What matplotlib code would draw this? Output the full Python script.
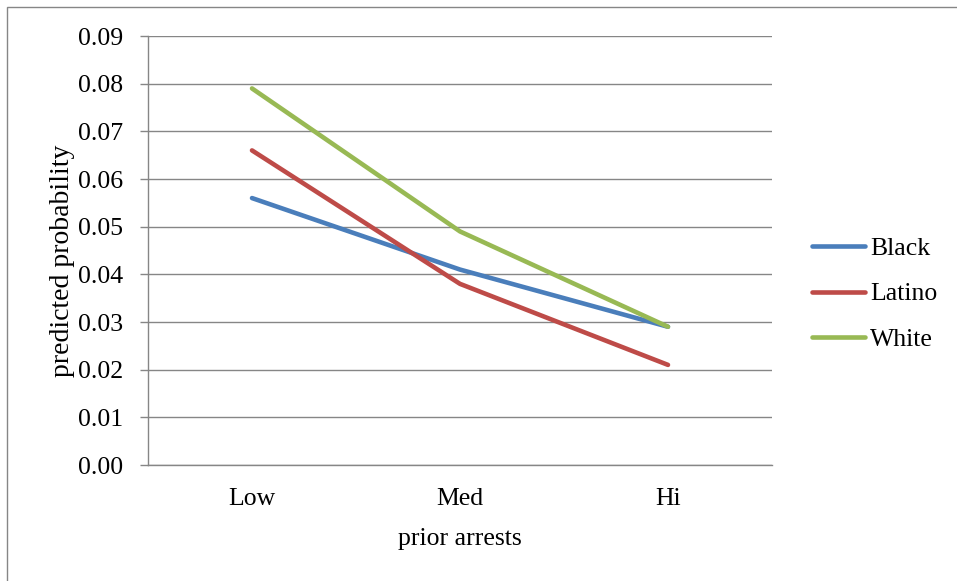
import matplotlib
matplotlib.use("Agg")
import matplotlib.pyplot as plt
from matplotlib.patches import Rectangle

plt.rcParams["font.family"] = ["Liberation Serif", "DejaVu Serif"]

categories = ["Low", "Med", "Hi"]
black = [0.056, 0.041, 0.029]
latino = [0.066, 0.038, 0.021]
white = [0.079, 0.049, 0.029]
yticks = [0.00, 0.01, 0.02, 0.03, 0.04, 0.05, 0.06, 0.07, 0.08, 0.09]

W, H = 957, 581
fig = plt.figure(figsize=(W / 100, H / 100), dpi=100)
ax = fig.add_axes([148 / W, 1 - 465 / H, (772 - 148) / W, (465 - 36) / H])

# outer chart border (right and bottom edges fall outside the crop)
fig.patches.append(Rectangle((7 / W, -0.05), 1.1, 1.05 - 6.5 / H,
                             transform=fig.transFigure, fill=False,
                             edgecolor="#868686", linewidth=1.0))

x = range(len(categories))
lw = 3.3
ax.plot(x, black, color="#4A7EBB", lw=lw, label="Black", solid_capstyle="round")
ax.plot(x, latino, color="#BE4B48", lw=lw, label="Latino", solid_capstyle="round")
ax.plot(x, white, color="#98B954", lw=lw, label="White", solid_capstyle="round")

fs = 18.5
ax.set_xlim(-0.5, 2.5)
ax.set_ylim(0, 0.09)
ax.set_yticks(yticks)
ax.set_yticklabels([f"{v:.2f}" for v in yticks], fontsize=fs)
ax.set_xticks(list(x))
ax.set_xticklabels(categories, fontsize=fs)
ax.tick_params(axis="y", direction="out", length=6, color="#868686", width=1, pad=12)
ax.tick_params(axis="x", length=0, pad=16.5)

ax.grid(axis="y", color="#868686", lw=1)
ax.set_axisbelow(True)
for s in ["top", "right"]:
    ax.spines[s].set_visible(False)
for s in ["left", "bottom"]:
    ax.spines[s].set_color("#868686")
    ax.spines[s].set_linewidth(1)

ax.set_ylabel("predicted probability", fontsize=20)
ax.yaxis.set_label_coords((75 - 148) / 624, (465 - 261) / 429)
ax.set_xlabel("prior arrests", fontsize=fs, labelpad=13)

ax.legend(loc="center left", bbox_to_anchor=((812 - 148) / 624, (465 - 294) / 429),
          frameon=False, fontsize=fs, handlelength=2.05, handletextpad=0.2,
          labelspacing=0.89, borderpad=0, borderaxespad=0)

fig.savefig("out.png", dpi=100)
